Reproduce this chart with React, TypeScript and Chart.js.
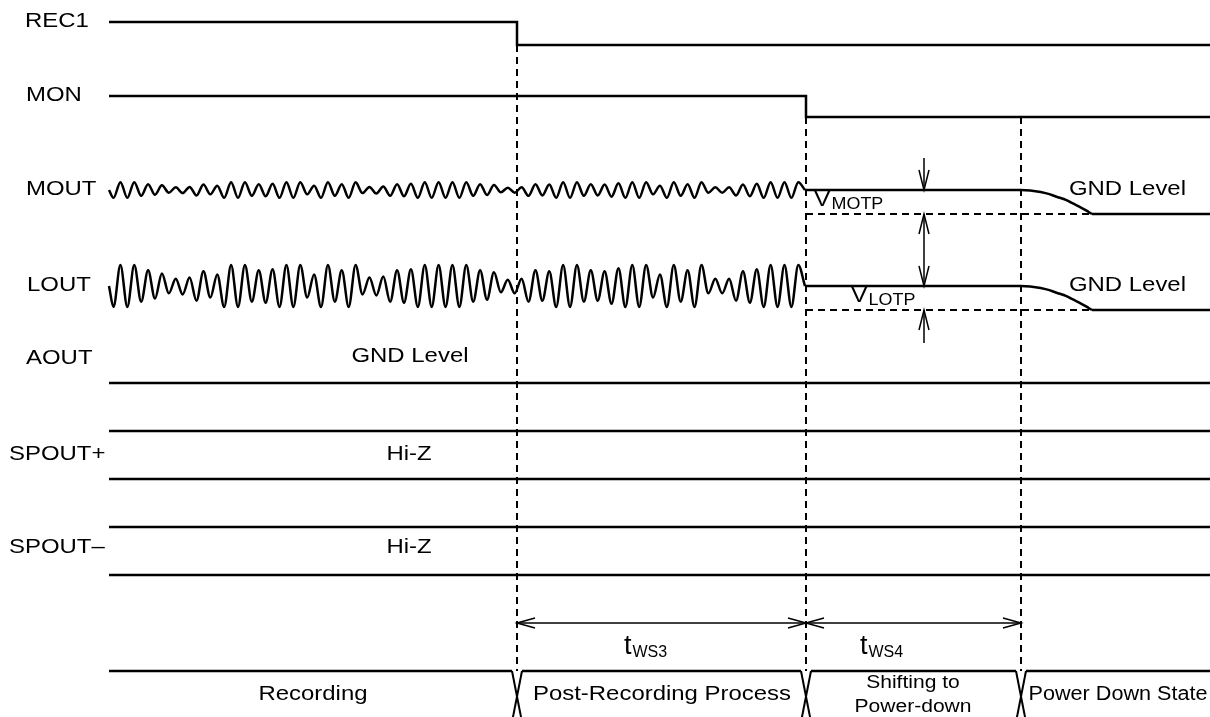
import React, { useEffect, useRef } from "react";
import { Chart, registerables } from "chart.js";
Chart.register(...registerables);

const W = 1210;
const H = 717;
const FONT = '"Liberation Sans", Arial, sans-serif';

// ---- time axis (x) key instants ----
const T_BEGIN = 109;
const T_REC1_FALL = 517;
const T_MON_FALL = 806;
const T_POWER_DOWN = 1021;
const T_GND_REACHED = 1092;
const T_END = 1212;

// ---- levels (y) ----
const REC1_LEVELS = [22, 45];
const MON_LEVELS = [96, 117];
const MOUT_CENTER = 190;
const MOUT_GND = 214;
const MOUT_AMP = 7.8;
const LOUT_CENTER = 286;
const LOUT_GND = 310;
const LOUT_AMP = 21;
const AOUT_LEVEL = 383;
const SPOUTP_LEVELS = [431, 479];
const SPOUTN_LEVELS = [527, 575];
const STATE_TOP = 671;
const STATE_BOTTOM = 722;
const TIMING_Y = 623;
const VOLT_ARROW_X = 924;
const VOLT_ARROW_ENDS = [158, 343];

// audio envelope: relative amplitude of each cycle
const audioEnvelope = [
  1.0, 1.0, 0.75, 0.6, 0.35, 0.4, 0.7, 0.55, 1.0, 1.0, 0.75, 0.8,
  1.0, 1.0, 0.55, 1.0, 0.75, 1.0, 0.4, 0.45, 0.75, 0.8, 1.0, 1.0,
  1.0, 1.0, 0.75, 0.65, 0.3, 0.35, 0.75, 0.7, 1.0, 1.0, 0.75, 0.7,
  0.85, 1.0, 1.0, 0.55, 1.0, 0.75, 1.0, 0.35, 0.35, 0.7, 0.8, 1.0,
  1.0, 1.0,
];
const WAVE_FIRST_EXTREME = 113.5;
const WAVE_LAST_EXTREME = 798.3;
const WAVE_END = 805;

// decay to GND after power-down (fraction of time, fraction of drop)
const decayTime = [0, 0.18, 0.36, 0.5, 0.64, 0.73, 0.82, 0.91, 1];
const decayLevel = [0, 0.04, 0.14, 0.28, 0.42, 0.56, 0.69, 0.84, 1];

const stateNames = ["Recording", "Post-Recording Process", "Shifting to\nPower-down", "Power Down State"];
const stateBoundaries = [T_REC1_FALL, T_MON_FALL, T_POWER_DOWN];

type Txt = { text: string; x: number; y: number; size: number; align: CanvasTextAlign; sx?: number; sub?: string; subSize?: number; subDy?: number };

const S = 21; // main font size
const SX = 1.14; // horizontal stretch of the reference lettering

const TEXTS: Txt[] = [
  { text: "REC1", x: 25, y: 21, size: S, align: "left", sx: SX },
  { text: "MON", x: 26, y: 95, size: S, align: "left", sx: SX },
  { text: "MOUT", x: 26, y: 189, size: S, align: "left", sx: SX },
  { text: "LOUT", x: 27, y: 285, size: S, align: "left", sx: SX },
  { text: "AOUT", x: 26, y: 358, size: S, align: "left", sx: SX },
  { text: "SPOUT+", x: 9, y: 454, size: S, align: "left", sx: SX },
  { text: "SPOUT\u2013", x: 9, y: 547, size: S, align: "left", sx: SX },
  { text: "GND Level", x: 1186, y: 189, size: S, align: "right", sx: SX },
  { text: "GND Level", x: 1186, y: 285, size: S, align: "right", sx: SX },
  { text: "GND Level", x: 410, y: 356, size: S, align: "center", sx: SX },
  { text: "Hi-Z", x: 409, y: 454, size: S, align: "center", sx: SX },
  { text: "Hi-Z", x: 409, y: 547, size: S, align: "center", sx: SX },
  { text: stateNames[0], x: 313, y: 694, size: S, align: "center", sx: SX },
  { text: stateNames[1], x: 662, y: 694, size: S, align: "center", sx: SX },
  { text: stateNames[2].split("\n")[0], x: 913, y: 683, size: 18, align: "center", sx: 1.17 },
  { text: stateNames[2].split("\n")[1], x: 913, y: 707, size: 18, align: "center", sx: 1.17 },
  { text: stateNames[3], x: 1118, y: 694, size: 20, align: "center", sx: 1.08 },
  { text: "V", x: 814, y: 200, size: 22, align: "left", sx: 1.12, sub: "MOTP", subSize: 16, subDy: 5 },
  { text: "V", x: 851, y: 296, size: 22, align: "left", sx: 1.12, sub: "LOTP", subSize: 16, subDy: 5 },
  { text: "t", x: 624, y: 647, size: 27, align: "left", sx: 1.0, sub: "WS3", subSize: 16, subDy: 6 },
  { text: "t", x: 860, y: 647, size: 27, align: "left", sx: 1.0, sub: "WS4", subSize: 16, subDy: 6 },
];

type Head = { x: number; y: number; dx: number; dy: number };
const HEADS: Head[] = [
  { x: T_REC1_FALL, y: TIMING_Y, dx: -1, dy: 0 },
  { x: T_MON_FALL, y: TIMING_Y, dx: 1, dy: 0 },
  { x: T_MON_FALL, y: TIMING_Y, dx: -1, dy: 0 },
  { x: T_POWER_DOWN, y: TIMING_Y, dx: 1, dy: 0 },
  { x: VOLT_ARROW_X, y: MOUT_CENTER, dx: 0, dy: 1 },
  { x: VOLT_ARROW_X, y: MOUT_GND, dx: 0, dy: -1 },
  { x: VOLT_ARROW_X, y: LOUT_CENTER, dx: 0, dy: 1 },
  { x: VOLT_ARROW_X, y: LOUT_GND, dx: 0, dy: -1 },
];

function wave(center: number, amp: number) {
  const n = audioEnvelope.length * 2;
  const step = (WAVE_LAST_EXTREME - WAVE_FIRST_EXTREME) / (n - 1);
  const pts = [{ x: T_BEGIN, y: center }];
  audioEnvelope.forEach((e, k) => {
    pts.push({ x: WAVE_FIRST_EXTREME + 2 * k * step, y: center + amp * e });
    pts.push({ x: WAVE_FIRST_EXTREME + (2 * k + 1) * step, y: center - amp * e });
  });
  pts.push({ x: WAVE_END, y: center });
  return pts;
}

function decay(from: number, to: number) {
  return decayTime.map((u, i) => ({
    x: T_POWER_DOWN + u * (T_GND_REACHED - T_POWER_DOWN),
    y: from + decayLevel[i] * (to - from),
  }));
}

const seg = (x1: number, y1: number, x2: number, y2: number) => [
  { x: x1, y: y1 },
  { x: x2, y: y2 },
];

function ds(data: any[], extra: any = {}) {
  return {
    data,
    borderColor: "#000",
    borderWidth: 2.5,
    pointRadius: 0,
    tension: 0,
    fill: false,
    ...extra,
  };
}

const dash = { borderWidth: 2, borderDash: [7, 5] };
const thin = { borderWidth: 1.5 };
const smooth = { cubicInterpolationMode: "monotone", borderWidth: 2.5 };

function buildDatasets() {
  const d: any[] = [];
  d.push(ds([
    { x: T_BEGIN, y: REC1_LEVELS[0] }, { x: T_REC1_FALL, y: REC1_LEVELS[0] },
    { x: T_REC1_FALL, y: REC1_LEVELS[1] }, { x: T_END, y: REC1_LEVELS[1] },
  ]));
  d.push(ds([
    { x: T_BEGIN, y: MON_LEVELS[0] }, { x: T_MON_FALL, y: MON_LEVELS[0] },
    { x: T_MON_FALL, y: MON_LEVELS[1] }, { x: T_END, y: MON_LEVELS[1] },
  ]));
  for (const [c, g, a] of [[MOUT_CENTER, MOUT_GND, MOUT_AMP], [LOUT_CENTER, LOUT_GND, LOUT_AMP]]) {
    d.push(ds(wave(c, a), smooth));
    d.push(ds(seg(WAVE_END, c, T_POWER_DOWN, c)));
    d.push(ds(decay(c, g), smooth));
    d.push(ds(seg(T_GND_REACHED, g, T_END, g)));
    d.push(ds(seg(T_MON_FALL, g, T_GND_REACHED, g), dash));
  }
  d.push(ds(seg(T_BEGIN, AOUT_LEVEL, T_END, AOUT_LEVEL)));
  for (const lv of [...SPOUTP_LEVELS, ...SPOUTN_LEVELS]) d.push(ds(seg(T_BEGIN, lv, T_END, lv)));
  d.push(ds(seg(T_REC1_FALL, REC1_LEVELS[1], T_REC1_FALL, STATE_TOP), dash));
  d.push(ds(seg(T_MON_FALL, MON_LEVELS[1], T_MON_FALL, STATE_TOP), dash));
  d.push(ds(seg(T_POWER_DOWN, MON_LEVELS[1], T_POWER_DOWN, STATE_TOP), dash));
  d.push(ds(seg(T_REC1_FALL, TIMING_Y, T_MON_FALL, TIMING_Y), thin));
  d.push(ds(seg(T_MON_FALL, TIMING_Y, T_POWER_DOWN, TIMING_Y), thin));
  d.push(ds(seg(VOLT_ARROW_X, VOLT_ARROW_ENDS[0], VOLT_ARROW_X, MOUT_CENTER), thin));
  d.push(ds(seg(VOLT_ARROW_X, MOUT_GND, VOLT_ARROW_X, LOUT_CENTER), thin));
  d.push(ds(seg(VOLT_ARROW_X, LOUT_GND, VOLT_ARROW_X, VOLT_ARROW_ENDS[1]), thin));
  const hw = 5;
  const starts = [T_BEGIN, ...stateBoundaries.map((b) => b + hw)];
  const ends = [...stateBoundaries.map((b) => b - hw), T_END];
  starts.forEach((s, i) => d.push(ds(seg(s, STATE_TOP, ends[i], STATE_TOP))));
  for (const b of stateBoundaries) {
    d.push(ds(seg(b - hw, STATE_TOP, b + hw, STATE_BOTTOM), { borderWidth: 2 }));
    d.push(ds(seg(b + hw, STATE_TOP, b - hw, STATE_BOTTOM), { borderWidth: 2 }));
  }
  return d;
}

const textPlugin = {
  id: "timingText",
  afterDatasetsDraw(chart: any) {
    const { ctx } = chart;
    const xs = chart.scales.x;
    const ys = chart.scales.y;
    ctx.save();
    ctx.fillStyle = "#000";
    ctx.strokeStyle = "#000";
    ctx.textBaseline = "middle";
    for (const t of TEXTS) {
      const px = xs.getPixelForValue(t.x);
      const py = ys.getPixelForValue(t.y);
      const sx = t.sx ?? 1;
      ctx.save();
      ctx.translate(px, py);
      ctx.scale(sx, 1);
      ctx.font = `${t.size}px ${FONT}`;
      ctx.textAlign = t.align;
      ctx.fillText(t.text, 0, 0);
      if (t.sub) {
        const w = ctx.measureText(t.text).width;
        ctx.font = `${t.subSize}px ${FONT}`;
        ctx.textAlign = "left";
        ctx.fillText(t.sub, w + 1, t.subDy ?? 4);
      }
      ctx.restore();
    }
    ctx.lineWidth = 1.5;
    for (const h of HEADS) {
      const px = xs.getPixelForValue(h.x);
      const py = ys.getPixelForValue(h.y);
      const L = h.dy !== 0 ? 20 : 18;
      const Wd = 5;
      const bx = px - h.dx * L;
      const by = py - h.dy * L;
      ctx.beginPath();
      ctx.moveTo(bx + h.dy * Wd, by + h.dx * Wd);
      ctx.lineTo(px, py);
      ctx.lineTo(bx - h.dy * Wd, by - h.dx * Wd);
      ctx.stroke();
    }
    ctx.restore();
  },
};

export default function App() {
  const ref = useRef<HTMLCanvasElement | null>(null);
  useEffect(() => {
    document.body.style.margin = "0";
    document.body.style.background = "#fff";
    if (!ref.current) return;
    const chart = new Chart(ref.current, {
      type: "line",
      data: { datasets: buildDatasets() },
      options: {
        animation: false,
        responsive: false,
        devicePixelRatio: 1,
        events: [],
        layout: { padding: 0 },
        plugins: { legend: { display: false }, tooltip: { enabled: false } },
        scales: {
          x: { type: "linear", min: 0, max: W, display: false },
          y: { type: "linear", min: 0, max: H, reverse: true, display: false },
        },
      } as any,
      plugins: [textPlugin],
    });
    return () => chart.destroy();
  }, []);
  return (
    <div style={{ position: "absolute", left: 0, top: 0, width: W, height: H, background: "#fff" }}>
      <canvas ref={ref} width={W} height={H} style={{ display: "block" }} />
    </div>
  );
}
